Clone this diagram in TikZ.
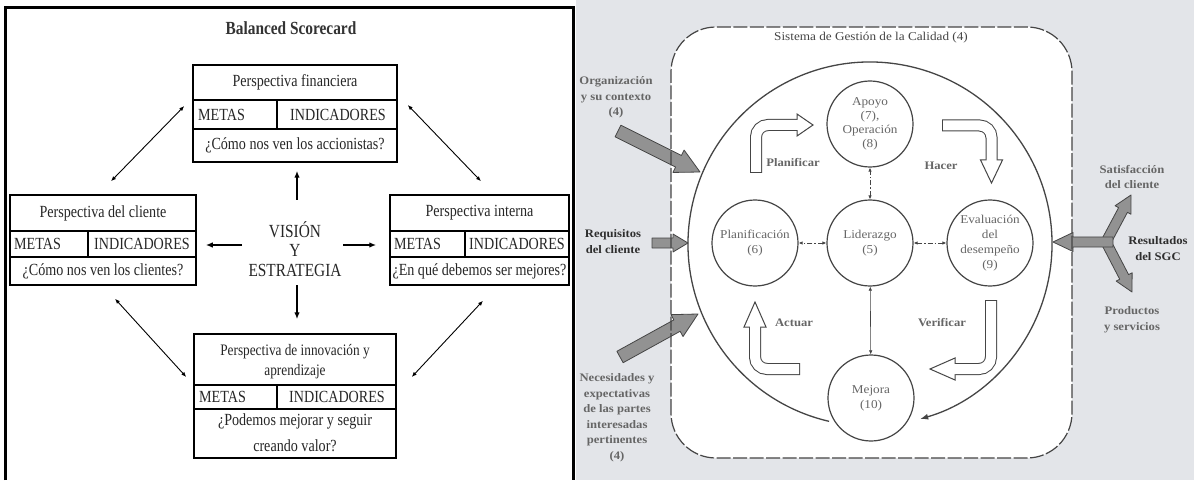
\documentclass[tikz,border=0pt]{standalone}
\usepackage{fontspec}
\setmainfont{Liberation Serif}
\newfontfamily\bscfont[FakeStretch=0.83]{Liberation Serif}
\newfontfamily\sgcfont[FakeStretch=1.1]{Liberation Serif}
\usetikzlibrary{arrows.meta,calc}

\definecolor{panelgray}{HTML}{E3E5E9}
\definecolor{ink}{HTML}{454545}
\definecolor{labelgray}{HTML}{666666}
\definecolor{darklabel}{HTML}{2E2E2E}
\definecolor{arrowfill}{HTML}{929292}

% hollow bent arrow: tail, bend, head base, tip
\newcommand{\hollowarrow}[4]{%
  \draw[ink, line width=12pt, rounded corners=12pt] (#1) -- (#2) -- (#3);
  \filldraw[draw=ink, fill=white, line width=1pt, line join=miter]
    ($(#3)!11pt!90:(#4)$) -- (#4) -- ($(#3)!11pt!-90:(#4)$) -- cycle;
  \draw[white, line width=10pt, rounded corners=12pt, shorten <=1pt, shorten >=-1.6pt]
    (#1) -- (#2) -- (#3);
}
% straight filled block arrow: tail, tip, shaft half width, head half width, head length
\newcommand{\grayarrow}[5]{%
  \coordinate (ga-base) at ($(#2)!#5!(#1)$);
  \filldraw[draw=ink, fill=arrowfill, line width=0.8pt, line join=round]
    ($(#1)!#3!90:(#2)$) -- ($(ga-base)!#3!-90:(#1)$) -- ($(ga-base)!#4!-90:(#1)$)
    -- (#2) -- ($(ga-base)!#4!90:(#1)$) -- ($(ga-base)!#3!90:(#1)$)
    -- ($(#1)!#3!-90:(#2)$) -- cycle;
}

\tikzset{
  boxframe/.style={draw=black, line width=1.5pt, inner sep=0pt, fill=white},
  boxline/.style={line width=1.3pt},
  bsc/.style={font=\bscfont\fontsize{17}{20}\selectfont, inner sep=0pt, align=center, text=black!85},
  diag/.style={line width=0.9pt, {Latex[length=5pt,width=4pt]}-{Latex[length=5pt,width=4pt]}},
  visarrow/.style={line width=1.4pt, -{Latex[length=7pt,width=5.5pt]}},
  stage/.style={circle, draw=ink, line width=1.2pt, fill=white, minimum size=86pt,
    inner sep=0pt, align=center, text=labelgray,
    font=\sgcfont\fontsize{12}{15}\selectfont},
  dashlink/.style={ink, line width=0.8pt, dash pattern=on 5pt off 2pt on 1.5pt off 2pt,
    {Latex[length=4pt,width=3.5pt]}-{Latex[length=4pt,width=3.5pt]}},
  solidlink/.style={ink, line width=0.6pt,
    {Latex[length=4pt,width=3.5pt]}-{Latex[length=4pt,width=3.5pt]}},
  flowlabel/.style={font=\sgcfont\bfseries\fontsize{11.5}{15.5}\selectfont,
    text=labelgray, align=center, inner sep=0pt},
  keylabel/.style={font=\sgcfont\bfseries\fontsize{11.5}{16}\selectfont,
    text=darklabel, align=center, inner sep=0pt},
}

\begin{document}
\begin{tikzpicture}[x=1pt,y=1pt]
\useasboundingbox (0,0) rectangle (1194,480);

% ---------------- Balanced Scorecard panel ----------------
\fill[white] (0,0) rectangle (576,480);
\draw[line width=3pt] (5.5,0) -- (5.5,472.5) -- (573.5,472.5) -- (573.5,0);

\node[font=\bscfont\bfseries\fontsize{18.5}{22}\selectfont, text=black!80] (title) at (291,452) {Balanced Scorecard};

% financial perspective
\node[boxframe, minimum width=204pt, minimum height=97pt] (fin) at (295,366.5) {};
\draw[boxline] (193,380) -- (397,380);
\draw[boxline] (193,351) -- (397,351);
\draw[boxline] (277,380) -- (277,351);
\node[bsc] (finH) at (295,397.5) {Perspectiva financiera};
\node[bsc, anchor=west] (finM) at (198,365.5) {METAS};
\node[bsc] (finI) at (338,365.5) {INDICADORES};
\node[bsc] (finQ) at (295,334.5) {¿Cómo nos ven los accionistas?};

% customer perspective
\node[boxframe, minimum width=186pt, minimum height=90pt] (cli) at (103,240) {};
\draw[boxline] (10,249) -- (196,249);
\draw[boxline] (10,223) -- (196,223);
\draw[boxline] (88,249) -- (88,223);
\node[bsc] (cliH) at (103,267) {Perspectiva del cliente};
\node[bsc, anchor=west] (cliM) at (14,236) {METAS};
\node[bsc] (cliI) at (142,236) {INDICADORES};
\node[bsc] (cliQ) at (103,209) {¿Cómo nos ven los clientes?};

% internal perspective
\node[boxframe, minimum width=179pt, minimum height=90pt] (int) at (479.5,240) {};
\draw[boxline] (390,249) -- (569,249);
\draw[boxline] (390,223) -- (569,223);
\draw[boxline] (465,249) -- (465,223);
\node[bsc] (intH) at (479.5,267) {Perspectiva interna};
\node[bsc, anchor=west] (intM) at (394,236) {METAS};
\node[bsc] (intI) at (517,236) {INDICADORES};
\node[bsc] (intQ) at (479.5,209) {¿En qué debemos ser mejores?};

% learning perspective
\node[boxframe, minimum width=202pt, minimum height=124pt] (inn) at (295,84) {};
\draw[boxline] (194,95) -- (396,95);
\draw[boxline] (194,71) -- (396,71);
\draw[boxline] (277,95) -- (277,71);
\node[bsc, font=\bscfont\fontsize{16}{20}\selectfont] (innH) at (295,118) {Perspectiva de innovación y\\aprendizaje};
\node[bsc, anchor=west] (innM) at (199,83) {METAS};
\node[bsc] (innI) at (337,83) {INDICADORES};
\node[bsc, font=\bscfont\fontsize{17}{26}\selectfont] (innQ) at (295,47) {¿Podemos mejorar y seguir\\creando valor?};

% vision and strategy
\node[bsc, font=\bscfont\fontsize{18.5}{19.5}\selectfont] (vis) at (295,231) {VISIÓN\\Y\\ESTRATEGIA};
\draw[visarrow] ($(vis)+(2,49)$) -- ([xshift=2pt,yshift=-8pt]fin.south);
\draw[visarrow] ($(vis)+(2,-36)$) -- ([xshift=2pt,yshift=14pt]inn.north);
\draw[visarrow] ($(vis)+(-53,4)$) -- ([xshift=9pt,yshift=-5pt]cli.east);
\draw[visarrow] ($(vis)+(48,4)$) -- ([xshift=-13pt,yshift=-5pt]int.west);

% links between perspectives
\draw[diag] ([xshift=8pt,yshift=13pt]cli.north) -- ([xshift=-8pt,yshift=7.5pt]fin.west);
\draw[diag] ([xshift=10pt,yshift=8.5pt]fin.east) -- ([xshift=1.5pt,yshift=13pt]int.north);
\draw[diag] ([xshift=12pt,yshift=-13pt]cli.south) -- ([xshift=-7pt,yshift=19pt]inn.west);
\draw[diag] ([xshift=3.5pt,yshift=-15pt]int.south) -- ([xshift=15pt,yshift=19pt]inn.east);

% ---------------- Quality management system panel ----------------
\fill[panelgray] (576,0) rectangle (1194,480);
\fill[white, rounded corners=45pt] (671,22) rectangle (1072,453);

% inputs and outputs
\grayarrow{618,349}{700,308}{6.5pt}{12.5pt}{24pt}
\grayarrow{652,237}{688,237}{5pt}{9pt}{15pt}
\grayarrow{620,123}{698,166}{6.5pt}{12.5pt}{24pt}
\grayarrow{1107,240}{1131,285}{5pt}{9pt}{17pt}
\grayarrow{1107,236}{1132,188}{5pt}{9pt}{17pt}
\grayarrow{1113,238}{1053,238}{5pt}{9.5pt}{20pt}

\draw[ink, line width=1.2pt, dash pattern=on 14pt off 2.5pt, rounded corners=45pt]
  (671,22) rectangle (1072,453);
\node[font=\sgcfont\fontsize{12}{14}\selectfont, text=ink] (sgc) at (871,442) {Sistema de Gestión de la Calidad (4)};

% PDCA cycle
\coordinate (bigc) at (870,236);
\draw[ink, line width=1.3pt, -{Latex[length=8pt,width=6pt]}]
  ($(bigc)+(257:182)$) arc[start angle=257, end angle=-74, radius=182];

\node[stage] (apoyo) at (870,356) {Apoyo\\[-1pt](7),\\[-1pt]Operación\\[-1pt](8)};
\node[stage] (lider) at (870,237) {Liderazgo\\(5)};
\node[stage] (plan) at (755,237) {Planificación\\(6)};
\node[stage] (eval) at (990,237) {Evaluación\\del\\desempeño\\(9)};
\node[stage] (mejora) at (871,82) {Mejora\\(10)};

\draw[dashlink] (lider) -- (apoyo);
\draw[dashlink] (lider) -- (plan);
\draw[dashlink] (lider) -- (eval);
\draw[solidlink] (lider) -- (mejora);

\hollowarrow{756,307}{756,355}{797,355}{813,355}
\hollowarrow{942,354.5}{991.5,354.5}{991.5,320}{991.5,297}
\hollowarrow{991,180}{991,111}{955,111}{930,111}
\hollowarrow{800,111}{755,111}{755,153}{755,178}

\node[flowlabel] (lplan) at (793,317) {Planificar};
\node[flowlabel] (lhacer) at (941,314) {Hacer};
\node[flowlabel] (lverif) at (942,157) {Verificar};
\node[flowlabel] (lactuar) at (794,157) {Actuar};

% side texts
\node[flowlabel] (org) at (616,382.5) {Organización\\y su contexto\\(4)};
\node[keylabel] (req) at (613,238.5) {Requisitos\\del cliente};
\node[flowlabel] (nec) at (617,62.5) {Necesidades y\\expectativas\\de las partes\\interesadas\\pertinentes\\(4)};
\node[flowlabel] (sat) at (1132,303) {Satisfacción\\del cliente};
\node[keylabel] (res) at (1158,231) {Resultados\\del SGC};
\node[flowlabel] (prod) at (1132,160) {Productos\\y servicios};
\end{tikzpicture}
\end{document}
